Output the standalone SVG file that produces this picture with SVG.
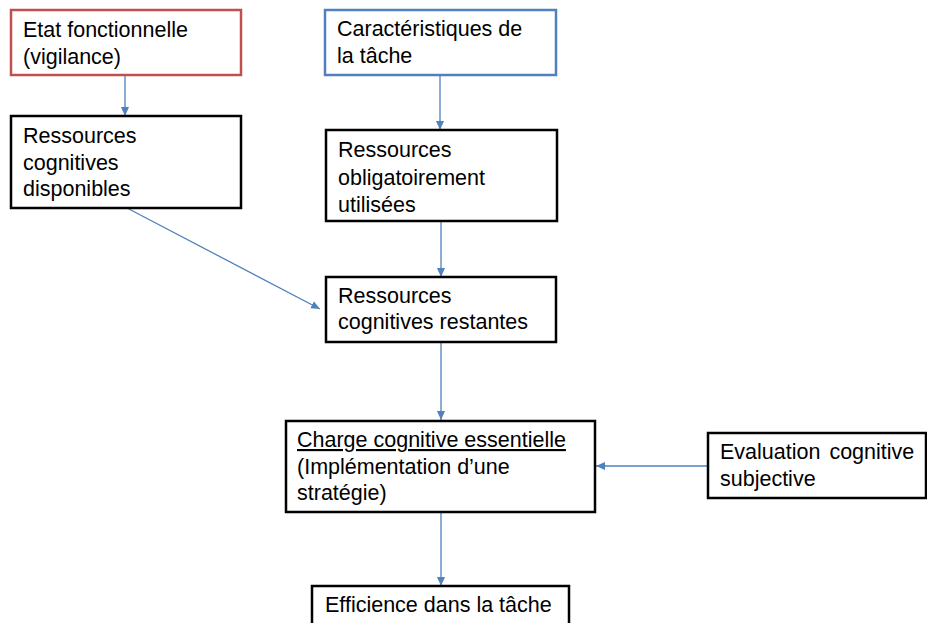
<svg xmlns="http://www.w3.org/2000/svg" width="927" height="623" viewBox="0 0 927 623">
<defs>
<marker id="arr" markerWidth="10" markerHeight="10" refX="9" refY="5" orient="auto" markerUnits="userSpaceOnUse">
<path d="M0,1 L9,5 L0,9 Z" fill="#4F81BD"/>
</marker>
<style>
.box{fill:#fff;stroke:#000;stroke-width:2.5}
.red{stroke:#C0504D}
.blue{stroke:#4F81BD}
text{font-family:"Liberation Sans",Arial,sans-serif;font-size:21.5px;fill:#000}
.c{stroke:#4F81BD;stroke-width:1.3;fill:none;marker-end:url(#arr)}
</style>
</defs>
<rect width="927" height="623" fill="#fff"/>
<g id="connectors">
<line class="c" x1="125" y1="75" x2="125" y2="116"/>
<line class="c" x1="440" y1="75" x2="440" y2="130"/>
<line class="c" x1="127" y1="208" x2="320" y2="309"/>
<line class="c" x1="441" y1="221" x2="441" y2="277"/>
<line class="c" x1="441" y1="342" x2="441" y2="420"/>
<line class="c" x1="708" y1="466" x2="596" y2="466"/>
<line class="c" x1="441" y1="512" x2="441" y2="586"/>
</g>
<g id="etat">
<rect class="box red" x="11" y="10" width="230" height="65"/>
<text x="23" y="37">Etat fonctionnelle</text>
<text x="23" y="64">(vigilance)</text>
</g>
<g id="caracteristiques">
<rect class="box blue" x="325" y="10" width="231" height="65"/>
<text x="337" y="36">Caractéristiques de</text>
<text x="337" y="63">la tâche</text>
</g>
<g id="disponibles">
<rect class="box" x="11" y="116" width="230" height="92"/>
<text x="23" y="143">Ressources</text>
<text x="23" y="170">cognitives</text>
<text x="23" y="196">disponibles</text>
</g>
<g id="obligatoires">
<rect class="box" x="326" y="130" width="231" height="91"/>
<text x="338" y="157">Ressources</text>
<text x="338" y="185">obligatoirement</text>
<text x="338" y="212">utilisées</text>
</g>
<g id="restantes">
<rect class="box" x="326" y="277" width="230" height="65"/>
<text x="338" y="303">Ressources</text>
<text x="338" y="329">cognitives restantes</text>
</g>
<g id="charge">
<rect class="box" x="286" y="421" width="309" height="91"/>
<text x="297" y="447" text-decoration="underline">Charge cognitive essentielle</text>
<text x="297" y="474">(Implémentation d’une</text>
<text x="297" y="500">stratégie)</text>
</g>
<g id="evaluation">
<rect class="box" x="708" y="433" width="218" height="65"/>
<text x="720" y="459" word-spacing="3">Evaluation cognitive</text>
<text x="720" y="486">subjective</text>
</g>
<g id="efficience">
<rect class="box" x="312" y="586" width="257" height="45"/>
<text x="325" y="612">Efficience dans la tâche</text>
</g>
</svg>
